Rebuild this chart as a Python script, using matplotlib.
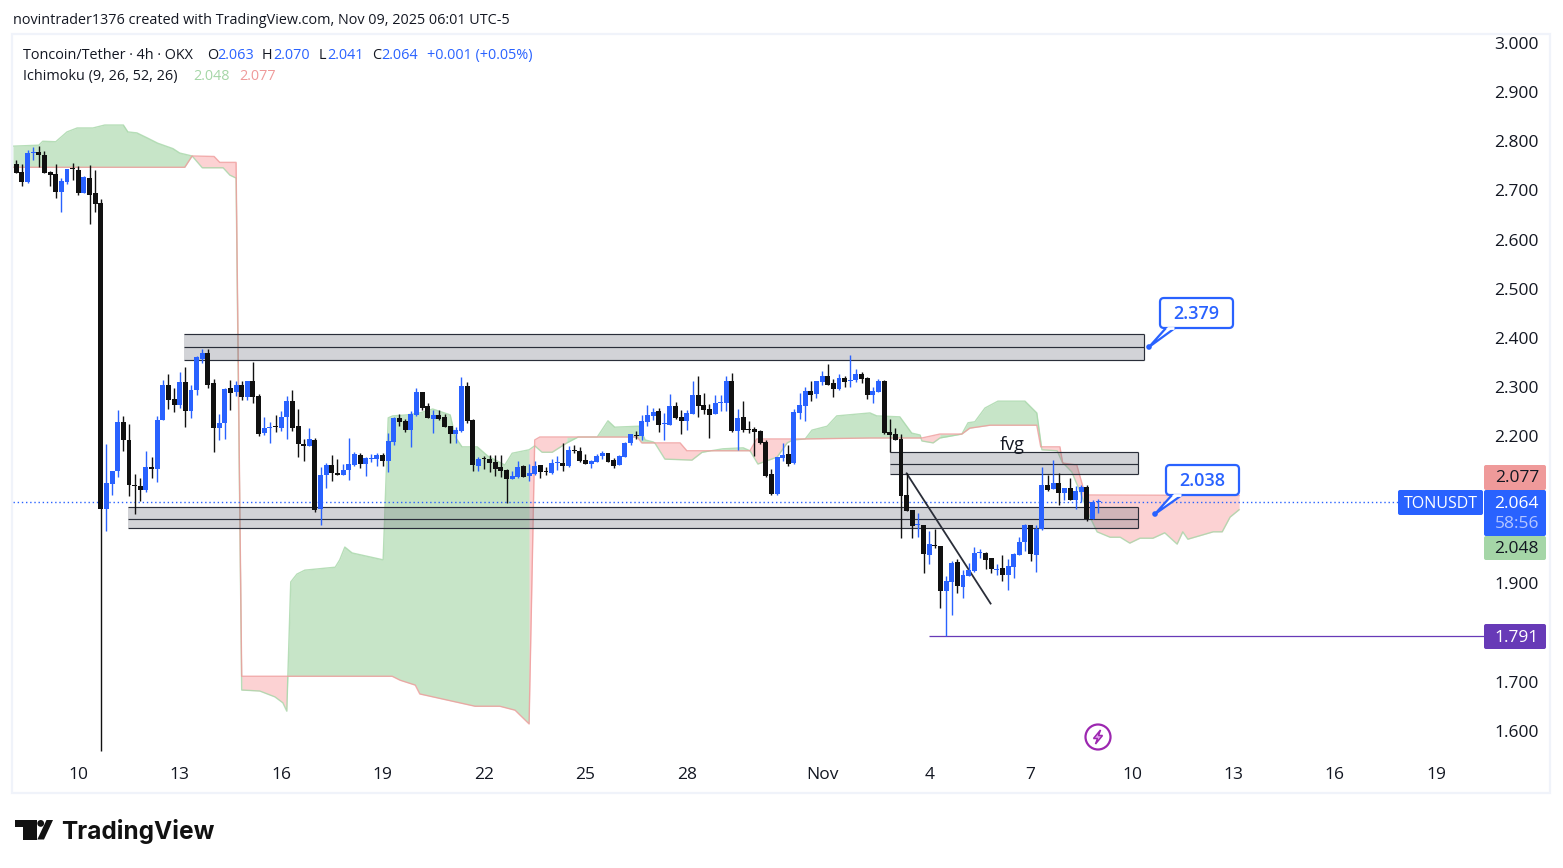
import matplotlib
matplotlib.use("Agg")
import matplotlib.pyplot as plt
from matplotlib.patches import FancyBboxPatch, Polygon, Circle, Rectangle
from matplotlib.transforms import ScaledTranslation
import numpy as np

plt.rcParams['font.family'] = ['Open Sans', 'DejaVu Sans']

# candles, 4h bars
opens = [2.752, 2.735, 2.716, 2.774, 2.776, 2.770, 2.735, 2.731, 2.695, 2.716,
         2.742, 2.740, 2.693, 2.723, 2.693, 2.672, 2.049, 2.101, 2.126, 2.227,
         2.190, 2.099, 2.097, 2.089, 2.135, 2.130, 2.230, 2.302, 2.274, 2.262,
         2.308, 2.248, 2.291, 2.355, 2.367, 2.306, 2.215, 2.224, 2.296, 2.288,
         2.302, 2.278, 2.310, 2.280, 2.204, 2.215, 2.219, 2.215, 2.236, 2.270,
         2.219, 2.182, 2.178, 2.190, 2.049, 2.118, 2.139, 2.123, 2.119, 2.129,
         2.139, 2.160, 2.141, 2.152, 2.151, 2.160, 2.147, 2.186, 2.235, 2.229,
         2.210, 2.241, 2.288, 2.259, 2.233, 2.241, 2.237, 2.218, 2.202, 2.208,
         2.300, 2.231, 2.137, 2.152, 2.151, 2.145, 2.135, 2.129, 2.111, 2.115,
         2.137, 2.117, 2.121, 2.139, 2.126, 2.123, 2.144, 2.143, 2.137, 2.170,
         2.168, 2.149, 2.141, 2.145, 2.157, 2.164, 2.149, 2.139, 2.155, 2.184,
         2.200, 2.198, 2.227, 2.239, 2.249, 2.223, 2.221, 2.259, 2.237, 2.229,
         2.243, 2.282, 2.261, 2.253, 2.243, 2.265, 2.265, 2.310, 2.208, 2.237,
         2.212, 2.212, 2.208, 2.186, 2.121, 2.080, 2.153, 2.161, 2.143, 2.245,
         2.259, 2.290, 2.284, 2.308, 2.320, 2.306, 2.294, 2.316, 2.309, 2.312,
         2.324, 2.316, 2.282, 2.288, 2.310, 2.206, 2.202, 2.192, 2.078, 2.048,
         2.016, 2.017, 1.955, 1.976, 1.974, 1.883, 1.901, 1.942, 1.891, 1.913,
         1.923, 1.959, 1.960, 1.950, 1.926, 1.930, 1.915, 1.932, 1.956, 1.982,
         2.017, 1.956, 2.009, 2.098, 2.090, 2.102, 2.082, 2.092, 2.068, 2.084,
         2.094, 2.029, 2.063]
closes = [2.734, 2.716, 2.774, 2.775, 2.771, 2.734, 2.730, 2.695, 2.717, 2.742,
          2.741, 2.693, 2.726, 2.689, 2.671, 2.049, 2.103, 2.127, 2.227, 2.189,
          2.099, 2.097, 2.089, 2.135, 2.130, 2.231, 2.302, 2.272, 2.262, 2.308,
          2.248, 2.292, 2.359, 2.367, 2.302, 2.215, 2.225, 2.294, 2.286, 2.302,
          2.278, 2.310, 2.278, 2.203, 2.215, 2.216, 2.217, 2.237, 2.270, 2.215,
          2.181, 2.177, 2.192, 2.047, 2.119, 2.139, 2.122, 2.118, 2.129, 2.141,
          2.162, 2.141, 2.153, 2.153, 2.160, 2.147, 2.188, 2.235, 2.227, 2.210,
          2.243, 2.288, 2.255, 2.235, 2.241, 2.233, 2.216, 2.202, 2.210, 2.300,
          2.229, 2.139, 2.151, 2.151, 2.143, 2.131, 2.127, 2.111, 2.117, 2.135,
          2.115, 2.123, 2.137, 2.125, 2.125, 2.143, 2.145, 2.137, 2.170, 2.168,
          2.147, 2.141, 2.147, 2.157, 2.164, 2.145, 2.137, 2.157, 2.184, 2.202,
          2.199, 2.229, 2.241, 2.247, 2.221, 2.225, 2.259, 2.235, 2.229, 2.245,
          2.282, 2.259, 2.251, 2.241, 2.265, 2.267, 2.310, 2.208, 2.235, 2.210,
          2.211, 2.206, 2.184, 2.117, 2.080, 2.155, 2.159, 2.141, 2.247, 2.261,
          2.290, 2.282, 2.310, 2.320, 2.302, 2.294, 2.316, 2.308, 2.312, 2.324,
          2.314, 2.282, 2.290, 2.310, 2.204, 2.200, 2.190, 2.076, 2.046, 2.015,
          2.017, 1.957, 1.978, 1.974, 1.883, 1.903, 1.940, 1.893, 1.915, 1.926,
          1.960, 1.960, 1.946, 1.928, 1.928, 1.915, 1.934, 1.958, 1.982, 2.017,
          1.958, 2.009, 2.098, 2.088, 2.102, 2.082, 2.092, 2.068, 2.086, 2.094,
          2.029, 2.064, 2.064]
highs = [2.759, 2.752, 2.780, 2.787, 2.788, 2.778, 2.737, 2.751, 2.723, 2.742,
         2.754, 2.748, 2.727, 2.750, 2.740, 2.681, 2.182, 2.127, 2.251, 2.239,
         2.223, 2.121, 2.113, 2.167, 2.156, 2.239, 2.312, 2.325, 2.296, 2.329,
         2.339, 2.302, 2.361, 2.375, 2.375, 2.314, 2.243, 2.296, 2.312, 2.310,
         2.310, 2.310, 2.349, 2.284, 2.237, 2.226, 2.241, 2.249, 2.280, 2.292,
         2.253, 2.192, 2.215, 2.194, 2.135, 2.143, 2.160, 2.152, 2.141, 2.194,
         2.166, 2.164, 2.155, 2.162, 2.163, 2.163, 2.204, 2.237, 2.243, 2.233,
         2.249, 2.296, 2.288, 2.265, 2.251, 2.251, 2.243, 2.218, 2.216, 2.318,
         2.308, 2.233, 2.155, 2.157, 2.159, 2.159, 2.159, 2.131, 2.127, 2.147,
         2.139, 2.141, 2.147, 2.139, 2.135, 2.151, 2.157, 2.184, 2.178, 2.180,
         2.176, 2.162, 2.149, 2.162, 2.168, 2.164, 2.153, 2.159, 2.186, 2.202,
         2.208, 2.241, 2.261, 2.255, 2.255, 2.245, 2.284, 2.267, 2.251, 2.251,
         2.310, 2.320, 2.286, 2.263, 2.282, 2.282, 2.320, 2.326, 2.253, 2.269,
         2.229, 2.216, 2.210, 2.190, 2.131, 2.155, 2.184, 2.180, 2.253, 2.286,
         2.298, 2.310, 2.310, 2.330, 2.345, 2.314, 2.324, 2.320, 2.363, 2.334,
         2.328, 2.318, 2.298, 2.314, 2.312, 2.233, 2.214, 2.202, 2.122, 2.048,
         2.041, 2.017, 2.005, 2.009, 1.974, 1.913, 1.944, 1.948, 1.926, 1.940,
         1.972, 1.968, 1.962, 1.950, 1.938, 1.956, 1.948, 1.960, 1.993, 2.019,
         2.017, 2.017, 2.135, 2.119, 2.149, 2.123, 2.092, 2.113, 2.096, 2.098,
         2.098, 2.068, 2.070]
lows = [2.733, 2.706, 2.714, 2.760, 2.746, 2.733, 2.707, 2.683, 2.653, 2.710,
        2.719, 2.689, 2.692, 2.630, 2.653, 1.556, 2.004, 2.077, 2.114, 2.167,
        2.075, 2.040, 2.065, 2.085, 2.112, 2.104, 2.230, 2.253, 2.246, 2.256,
        2.217, 2.234, 2.282, 2.347, 2.296, 2.165, 2.189, 2.192, 2.251, 2.280,
        2.272, 2.272, 2.266, 2.199, 2.201, 2.183, 2.207, 2.209, 2.192, 2.209,
        2.156, 2.148, 2.177, 2.043, 2.016, 2.093, 2.106, 2.118, 2.118, 2.109,
        2.137, 2.133, 2.117, 2.145, 2.137, 2.137, 2.125, 2.180, 2.218, 2.206,
        2.176, 2.239, 2.251, 2.235, 2.204, 2.231, 2.216, 2.184, 2.184, 2.206,
        2.225, 2.127, 2.127, 2.131, 2.125, 2.117, 2.115, 2.062, 2.111, 2.113,
        2.115, 2.107, 2.119, 2.113, 2.119, 2.121, 2.129, 2.127, 2.135, 2.164,
        2.145, 2.141, 2.133, 2.145, 2.151, 2.145, 2.133, 2.139, 2.155, 2.180,
        2.192, 2.190, 2.218, 2.231, 2.206, 2.190, 2.221, 2.233, 2.202, 2.210,
        2.243, 2.237, 2.243, 2.194, 2.243, 2.249, 2.249, 2.206, 2.170, 2.206,
        2.204, 2.157, 2.182, 2.115, 2.078, 2.078, 2.147, 2.137, 2.141, 2.233,
        2.229, 2.269, 2.275, 2.302, 2.302, 2.277, 2.292, 2.298, 2.298, 2.308,
        2.306, 2.273, 2.265, 2.288, 2.202, 2.166, 2.190, 1.991, 2.046, 1.991,
        1.993, 1.920, 1.938, 1.970, 1.847, 1.791, 1.834, 1.879, 1.869, 1.913,
        1.921, 1.950, 1.928, 1.919, 1.915, 1.903, 1.885, 1.909, 1.956, 1.964,
        1.944, 1.921, 2.007, 2.086, 2.090, 2.058, 2.068, 2.068, 2.050, 2.064,
        2.025, 2.029, 2.041]

# ichimoku cloud, read as breakpoints on the bar axis
span_a_x = [-0.6, 4.0, 4.7, 7.0, 9.0, 10.8, 13.6, 15.7, 19.0, 19.8, 21.4, 23.2, 25.1, 27.8, 29.0, 31.2,
            33.0, 36.7, 37.9, 39.0, 40.0, 43.2, 45.9, 47.3, 48.0, 48.7, 49.8, 51.2, 56.6, 57.4, 58.3, 59.6,
            65.1, 66.0, 66.8, 69.3, 71.6, 73.9, 77.0, 77.9, 79.1, 81.8, 83.7, 86.7, 88.0, 91.0, 92.0, 93.3,
            95.1, 97.7, 99.7, 103.1, 105.0, 106.2, 110.5, 111.6, 113.0, 113.3, 115.1, 119.9, 121.7, 125.4,
            129.0, 130.2, 131.6, 135.0, 136.8, 137.8, 140.0, 141.2, 143.9, 145.6, 151.5, 152.7, 156.8, 158.9,
            160.4, 160.7, 162.7, 163.9, 167.8, 168.9, 170.1, 171.9, 174.2, 179.0, 181.1, 182.0, 184.7, 185.6,
            187.3, 188.8, 190.2, 191.8, 194.1, 195.9, 197.6, 199.4, 201.7, 203.8, 206.0, 207.0, 207.9, 212.4,
            214.0, 215.4, 217.0]
span_a = [2.788, 2.790, 2.798, 2.797, 2.817, 2.825, 2.825, 2.831, 2.831, 2.817, 2.815, 2.805, 2.794, 2.783, 2.774, 2.768,
          2.744, 2.744, 2.729, 2.723, 1.681, 1.679, 1.667, 1.655, 1.638, 1.901, 1.917, 1.925, 1.931, 1.946, 1.972, 1.960,
          1.946, 2.235, 2.239, 2.241, 2.245, 2.253, 2.241, 2.196, 2.176, 2.176, 2.157, 2.139, 2.163, 2.170, 2.178, 2.165,
          2.165, 2.184, 2.196, 2.196, 2.229, 2.216, 2.218, 2.190, 2.186, 2.184, 2.151, 2.149, 2.165, 2.172,
          2.174, 2.168, 2.141, 2.155, 2.184, 2.190, 2.192, 2.210, 2.218, 2.239, 2.245, 2.239, 2.237, 2.204,
          2.200, 2.188, 2.184, 2.194, 2.202, 2.225, 2.227, 2.255, 2.269, 2.269, 2.245, 2.170, 2.168, 2.145,
          2.125, 2.084, 2.041, 2.003, 1.992, 1.992, 1.980, 1.990, 1.990, 2.001, 1.978, 2.003, 1.988, 2.003,
          2.003, 2.033, 2.048]
span_b_x = [-0.6, 29.9, 31.2, 35.1, 36.1, 39.0, 40.0, 66.7, 68.1, 70.8, 71.6, 81.4, 85.8, 88.5, 91.0, 92.0, 92.9,
            110.2, 111.0, 117.8, 119.0, 130.2, 131.4, 139.6, 151.5, 160.7, 163.9, 167.8, 169.2, 172.8, 181.1,
            181.8, 185.2, 185.7, 188.2, 189.3, 190.2, 217.0]
span_b = [2.745, 2.745, 2.768, 2.767, 2.755, 2.755, 1.709, 1.709, 1.701, 1.691, 1.673, 1.648, 1.648, 1.640, 1.612, 2.190, 2.196,
          2.196, 2.184, 2.184, 2.168, 2.168, 2.192, 2.192, 2.194, 2.194, 2.202, 2.202, 2.214, 2.220, 2.220,
          2.176, 2.176, 2.143, 2.139, 2.094, 2.078, 2.077]

# levels drawn on the chart: bar start, bar end, top, middle, bottom
zone_starts = [29.8, 19.9, 155.0]
zone_ends = [200.1, 199.1, 199.1]
zone_tops = [2.405, 2.053, 2.165]
zone_mids = [2.379, 2.030, 2.142]
zone_bottoms = [2.353, 2.010, 2.121]

trend_x = [158.0, 172.9]
trend_y = [2.122, 1.857]

last_price = 2.064
low_level = 1.791
low_level_start = 162.0

price_ticks = [3.0, 2.9, 2.8, 2.7, 2.6, 2.5, 2.4, 2.3, 2.2, 1.9, 1.7, 1.6]
date_ticks = [11, 29, 47, 65, 83, 101, 119, 143, 162, 180, 198, 216, 234, 252]
date_labels = ['10', '13', '16', '19', '22', '25', '28', 'Nov', '4', '7', '10', '13', '16', '19']

BLUE = '#2962ff'
BLACK = '#111111'
GREEN = '#a5d6a7'
RED = '#ef9a9a'
PURPLE = '#673ab7'
TEXT = '#131722'

W, H = 1563, 868
fig = plt.figure(figsize=(W / 100, H / 100), dpi=100, facecolor='white')

# price pane, pixel box 13..1484 x 35..754
ax = fig.add_axes([13 / W, 1 - 754 / H, (1484 - 13) / W, (754 - 35) / H])
ax.set_xlim(-0.586, 260.46)
ax.set_ylim(1.5508, 3.01425)
for s in ax.spines.values():
    s.set_visible(False)

ax.yaxis.tick_right()
ax.set_yticks(price_ticks)
ax.set_yticklabels(['%.3f' % p for p in price_ticks])
ax.tick_params(axis='y', length=0, pad=7.3, labelsize=12.5, labelcolor=TEXT)
ax.set_xticks(date_ticks)
ax.set_xticklabels(date_labels)
ax.tick_params(axis='x', length=0, pad=9.5, labelsize=12.5, labelcolor=TEXT)
# tick labels sit one pixel lower in the original
down = ScaledTranslation(0, -1 / 100, fig.dpi_scale_trans)
for t in ax.get_yticklabels():
    t.set_transform(t.get_transform() + down)

# cloud, each segment takes the colour of its right end like TV does
grid = np.union1d(span_a_x, span_b_x)
a = np.interp(grid, span_a_x, span_a)
b = np.interp(grid, span_b_x, span_b)
is_green = a[1:] >= b[1:]
start = 0
for i in range(1, len(is_green) + 1):
    if i == len(is_green) or is_green[i] != is_green[start]:
        if is_green[start]:
            ax.fill_between(grid[start:i + 1], a[start:i + 1], b[start:i + 1], color=GREEN, alpha=0.62, lw=0, zorder=1)
        else:
            ax.fill_between(grid[start:i + 1], a[start:i + 1], b[start:i + 1], color='#f77c80', alpha=0.34, lw=0, zorder=1)
        start = i
ax.plot(span_a_x, span_a, color=GREEN, lw=1, alpha=0.8, zorder=1.5)
ax.plot(span_b_x, span_b, color=RED, lw=1, alpha=0.8, zorder=1.5)

# gray zones
for x0, x1, top, mid, bot in zip(zone_starts, zone_ends, zone_tops, zone_mids, zone_bottoms):
    ax.add_patch(Rectangle((x0, bot), x1 - x0, top - bot, fc='#787b86', alpha=0.33, lw=0, zorder=2))
    ax.hlines([top, mid, bot], x0, x1, color='#2a2e39', lw=0.85, zorder=2.2)
    ax.vlines(x1, bot, top, color='#2a2e39', lw=0.85, zorder=2.2)

ax.hlines(last_price, -0.586, 260.46, color=BLUE, lw=1, linestyles=(0, (1, 2)), zorder=2.5)
ax.plot(trend_x, trend_y, color='#2a2e39', lw=1.3, zorder=2.6)
ax.hlines(low_level, low_level_start, 260.46, color=PURPLE, lw=0.9, zorder=2.6)

# candles
idx = np.arange(len(opens))
o = np.array(opens)
c = np.array(closes)
colors = [BLUE if cl >= op else BLACK for op, cl in zip(o, c)]
ax.vlines(idx, lows, highs, colors=colors, lw=1.0, zorder=3)
ax.bar(idx, np.maximum(np.abs(c - o), 0.002), bottom=np.minimum(o, c), width=0.88, color=colors, lw=0, zorder=3.1)

ax.text(176.8, 2.180, 'fvg', fontsize=13, color=TEXT, ha='center', va='center', zorder=4)

# everything around the chart in pixel coordinates
ov = fig.add_axes([0, 0, 1, 1], facecolor='none')
ov.set_xlim(0, W)
ov.set_ylim(H, 0)
ov.axis('off')

ov.add_patch(Rectangle((12, 34), 1538, 759, fc='none', ec='#f0f3fa', lw=1.6))


def label(x, y, s, color=TEXT, size=10.4):
    ov.text(x, y, s, color=color, fontsize=size, va='baseline')


label(13, 24.5, 'novintrader1376 created with TradingView.com, Nov 09, 2025 06:01 UTC-5', size=10.4)
label(23, 59, 'Toncoin/Tether · 4h · OKX')
for x, s, col in [(207, 'O', TEXT), (217, '2.063', BLUE), (262, 'H', TEXT), (273, '2.070', BLUE),
                  (319, 'L', TEXT), (327, '2.041', BLUE), (372, 'C', TEXT), (381, '2.064', BLUE),
                  (427, '+0.001 (+0.05%)', BLUE)]:
    label(x, 59, s, color=col)
label(23, 80, 'Ichimoku (9, 26, 52, 26)')
label(193, 80, '2.048', color=GREEN)
label(239, 80, '2.077', color=RED)


def price_box(y0, y1, col, s, text_col, x0=1484, x1=1546):
    ov.add_patch(FancyBboxPatch((x0 + 1, y0 + 1), x1 - x0 - 2, y1 - y0 - 2, boxstyle='round,pad=1,rounding_size=2',
                                fc=col, ec='none', zorder=5))
    if s:
        ov.text(x1 - 7, (y0 + y1) / 2 + 1, s, color=text_col, fontsize=12.5, ha='right', va='center', zorder=6)


price_box(465, 490, RED, '2.077', TEXT)
price_box(536, 560, GREEN, '2.048', TEXT)
price_box(490, 536, BLUE, '', 'white')
ov.text(1539, 504, '2.064', color='white', fontsize=12.5, ha='right', va='center', zorder=6)
ov.text(1539, 524, '58:56', color='#b4c6ff', fontsize=12.5, ha='right', va='center', zorder=6)
price_box(624, 649, PURPLE, '1.791', 'white')
price_box(490, 515, BLUE, '', 'white', x0=1398, x1=1483)
ov.text(1440.5, 504, 'TONUSDT', color='white', fontsize=11.5, ha='center', va='center', zorder=6)


def callout(x0, x1, y0, y1, base0, base1, tip, s):
    ov.add_patch(FancyBboxPatch((x0 + 3, y0 + 3), x1 - x0 - 6, y1 - y0 - 6, boxstyle='round,pad=3,rounding_size=4',
                                fc='white', ec=BLUE, lw=1.6, zorder=5))
    ov.add_patch(Polygon([(base0, y1), tip, (base1, y1)], closed=False, fc='white', ec=BLUE, lw=1.6, zorder=5.1))
    ov.plot([base0 + 1, base1 - 1], [y1, y1], color='white', lw=2, zorder=5.2, solid_capstyle='butt')
    ov.add_patch(Circle(tip, 2.8, fc=BLUE, ec='none', zorder=5.3))
    ov.text((x0 + x1) / 2, (y0 + y1) / 2 + 1, s, color=BLUE, fontsize=13, fontweight='semibold', ha='center', va='center', zorder=6)


callout(1160, 1233, 298, 328, 1166, 1175, (1149, 347), '2.379')
callout(1166, 1239, 465, 495, 1172, 1182, (1155, 514), '2.038')

# lightning mark
ov.add_patch(Circle((1098, 737), 12.5, fc='white', ec='#9c27b0', lw=1.6, zorder=5))
ov.add_patch(Polygon([(1100.5, 730), (1093.5, 738.5), (1097.5, 738.5), (1095.5, 744), (1102.5, 735.5), (1098.5, 735.5)],
                     fc='#e3a7ee', ec='#9c27b0', lw=1.1, zorder=5.1))

# logo
ov.add_patch(Polygon([(15, 820), (36.7, 820), (36.7, 839.5), (22.7, 839.5), (22.7, 826.5), (15, 826.5)], fc=BLACK, ec='none'))
ov.add_patch(Circle((40.7, 823.4), 3.4, fc=BLACK, ec='none'))
ov.add_patch(Polygon([(46.5, 820), (53, 820), (44, 839.5), (37.3, 839.5)], fc=BLACK, ec='none'))
ov.text(61, 838.5, 'TradingView', color=BLACK, fontsize=17.6, fontweight='bold', family=['Inter', 'DejaVu Sans'], va='baseline')

fig.savefig('out.png', dpi=100)
